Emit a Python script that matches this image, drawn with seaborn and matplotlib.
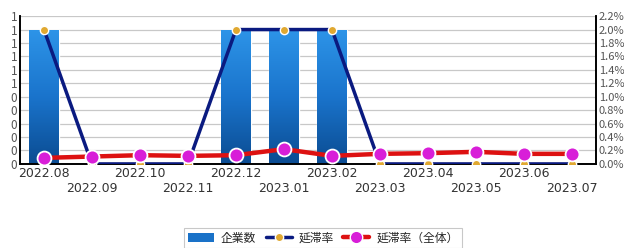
import numpy as np
import pandas as pd
import matplotlib
matplotlib.use("Agg")
import matplotlib.pyplot as plt
import matplotlib.colors as mcolors
from matplotlib.patches import Patch
from matplotlib.lines import Line2D
import seaborn as sns

# données
months = ['2022.08', '2022.09', '2022.10', '2022.11', '2022.12', '2023.01',
          '2023.02', '2023.03', '2023.04', '2023.05', '2023.06', '2023.07']
companies = [1, 0, 0, 0, 1, 1, 1, 0, 0, 0, 0, 0]
delay_rate = [2.0, 0, 0, 0, 2.0, 2.0, 2.0, 0, 0, 0, 0, 0]
delay_rate_all = [0.09, 0.11, 0.13, 0.12, 0.13, 0.22, 0.12, 0.15, 0.16, 0.18, 0.15, 0.15]
left_ticks = np.round(np.linspace(0, 1.1, 12), 2)
right_ticks = np.round(np.linspace(0, 2.2, 12), 2)

sns.set_style("white")
plt.rcParams['font.family'] = ['Noto Sans CJK JP', 'DejaVu Sans']

df = pd.DataFrame({'month': months, 'companies': companies,
                   'rate': delay_rate, 'rate_all': delay_rate_all})
df['pos'] = np.arange(len(df))

fig = plt.figure(figsize=(6.24, 2.48), dpi=100)
ax = fig.add_axes([0.032, 0.339, 0.923, 0.596])

sns.barplot(data=df, x='month', y='companies', color='#1a72c8', width=0.62,
            ax=ax, zorder=2, saturation=1)

# dégradé sur les barres (clair en haut, foncé en bas)
grad = mcolors.LinearSegmentedColormap.from_list('g', ['#2d94e8', '#1a74cc', '#0b4c92'])
for p in ax.patches:
    if p.get_height() <= 0:
        continue
    x0, y0 = p.get_x(), p.get_y()
    w, h = p.get_width(), p.get_height()
    img = ax.imshow(np.linspace(0, 1, 100).reshape(-1, 1), cmap=grad, aspect='auto',
                    extent=[x0, x0 + w, y0, y0 + h], origin='upper', zorder=2)
    img.set_clip_path(p)

ax.set_xlim(-0.5, len(months) - 0.5)
ax.set_ylim(0, 1.1)
ax.set_yticks(left_ticks)
ax.set_yticklabels(['%.0f' % v for v in left_ticks])
ax.yaxis.grid(True, color='#c8c8c8', lw=0.9)
ax.set_axisbelow(True)
ax.set_xlabel('')
ax.set_ylabel('')
ax.set_xticks(range(len(months)))
ax.set_xticklabels([m if i % 2 == 0 else '\n' + m for i, m in enumerate(months)],
                   fontsize=9, color='#333333', family='DejaVu Sans')
ax.tick_params(axis='y', labelsize=8.5, labelcolor='#555555', pad=2, length=0)
ax.tick_params(axis='x', length=0, pad=2)

ax2 = ax.twinx()
sns.lineplot(x=df['pos'], y=df['rate'], ax=ax2, color='#0a1a80', lw=2.5,
             marker='o', markersize=6, markerfacecolor='#e0a830',
             markeredgecolor='white', markeredgewidth=1, zorder=3)
sns.lineplot(x=df['pos'], y=df['rate_all'], ax=ax2, color='#dd1111', lw=3.2,
             marker='o', markersize=10, markerfacecolor='#d81ed8',
             markeredgecolor='white', markeredgewidth=1.3, zorder=4)
ax2.set_ylim(0, 2.2)
ax2.set_yticks(right_ticks)
ax2.set_yticklabels(['%.1f%%' % v for v in right_ticks])
ax2.tick_params(axis='y', labelsize=8, labelcolor='#555555', pad=2, length=0)
ax2.set_xlabel('')
ax2.set_ylabel('')
ax2.set_xlim(-0.5, len(months) - 0.5)

for a in (ax, ax2):
    a.spines['top'].set_visible(False)
    for s in ('left', 'right', 'bottom'):
        a.spines[s].set_color('black')
        a.spines[s].set_linewidth(1.2)

handles = [
    Patch(facecolor='#1a72c8', edgecolor='none'),
    Line2D([0], [0], color='#0a1a80', lw=2.5, marker='o', markersize=6,
           markerfacecolor='#e0a830', markeredgecolor='white'),
    Line2D([0], [0], color='#dd1111', lw=3.2, marker='o', markersize=9,
           markerfacecolor='#d81ed8', markeredgecolor='white'),
]
leg = fig.legend(handles, ['企業数', '延滞率', '延滞率（全体）'], loc='center',
                 bbox_to_anchor=(0.518, 0.04), ncol=3, fontsize=8.5, frameon=True,
                 fancybox=False, edgecolor='#bbbbbb', handlelength=2.2,
                 columnspacing=0.8, handletextpad=0.6, borderpad=0.3)
leg.get_frame().set_linewidth(0.8)

fig.savefig('out.png', dpi=100)
